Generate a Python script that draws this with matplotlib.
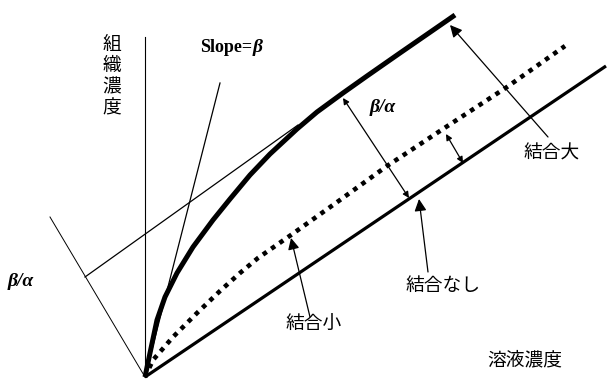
import matplotlib
matplotlib.use("Agg")
import matplotlib.pyplot as plt

# curve points (x = solution conc., y = tissue conc.)
strong_x = [0, 5, 12, 20, 32, 48, 68, 85, 105, 125, 152, 172, 198, 222, 255, 310]
strong_y = [0, 24, 57, 80, 104, 130, 157, 178, 202, 223, 248, 265, 284, 301, 324, 362]

weak_x = [0, 8, 28, 52, 75, 95, 113, 146, 195, 242, 301, 362, 420]
weak_y = [0, 17, 40, 64, 86, 104, 119, 142, 177, 211, 250, 290, 331]

none_x = [0, 461]
none_y = [0, 311]

# construction lines
tangent_x = [0, 75]
tangent_y = [0, 294]
asym_x = [153, -60]
asym_y = [252, 100]
perp_x = [0, -95]
perp_y = [0, 160]
axis_x = [0, 0]
axis_y = [0, 340]

jp = ["Noto Sans CJK JP", "DejaVu Sans"]

fig = plt.figure(figsize=(6.09, 3.79), dpi=100)
ax = fig.add_axes([0, 0, 1, 1])
ax.set_xlim(-145, 464)
ax.set_ylim(-2, 377)
ax.axis("off")

# thin lines
ax.plot(axis_x, axis_y, color="black", lw=0.8)
ax.plot(tangent_x, tangent_y, color="black", lw=0.9)
ax.plot(asym_x, asym_y, color="black", lw=0.9)
ax.plot(perp_x, perp_y, color="black", lw=0.7)

# curves
ax.plot(none_x, none_y, color="black", lw=2.3, solid_capstyle="butt")
ax.plot(weak_x, weak_y, color="black", lw=3.3, linestyle=(0, (1.0, 1.2)))
ax.plot(strong_x, strong_y, color="black", lw=3.6, solid_joinstyle="round",
        solid_capstyle="butt")

# arrows
def arrow(tail, head, style="-|>", scale=14):
    ax.annotate("", xy=head, xytext=tail,
                arrowprops=dict(arrowstyle=style, color="black", lw=0.9,
                                mutation_scale=scale, shrinkA=0, shrinkB=0))

arrow((403, 240), (305, 352), scale=18)
arrow((198, 279), (264, 179), style="<|-|>", scale=9)
arrow((301, 243), (318, 214), style="<|-|>", scale=9)
arrow((283, 105), (274, 178), scale=18)
arrow((165, 60), (146, 139), scale=17)

# labels
ax.text(-33, 301, "\n".join("組織濃度"), family=jp, fontsize=13.5,
        ha="center", va="center", linespacing=1.0)
ax.text(107, 330, "Slope=", family="Liberation Serif", weight="bold",
        fontsize=13, ha="right", va="center")
ax.text(108, 330, "β", family="Liberation Serif", weight="bold",
        style="italic", fontsize=14, ha="left", va="center")
ax.text(238, 269, "β/α", family="Liberation Serif", weight="bold",
        style="italic", fontsize=14, ha="center", va="center")
ax.text(-124, 96, "β/α", family="Liberation Serif", weight="bold",
        style="italic", fontsize=14, ha="center", va="center")
ax.text(407, 224, "結合大", family=jp, fontsize=13.5, ha="center", va="center")
ax.text(298, 92, "結合なし", family=jp, fontsize=13.5, ha="center", va="center")
ax.text(169, 53, "結合小", family=jp, fontsize=13.5, ha="center", va="center")
ax.text(380, 17, "溶液濃度", family=jp, fontsize=13.5, ha="center", va="center")

fig.savefig("out.png", dpi=100)
